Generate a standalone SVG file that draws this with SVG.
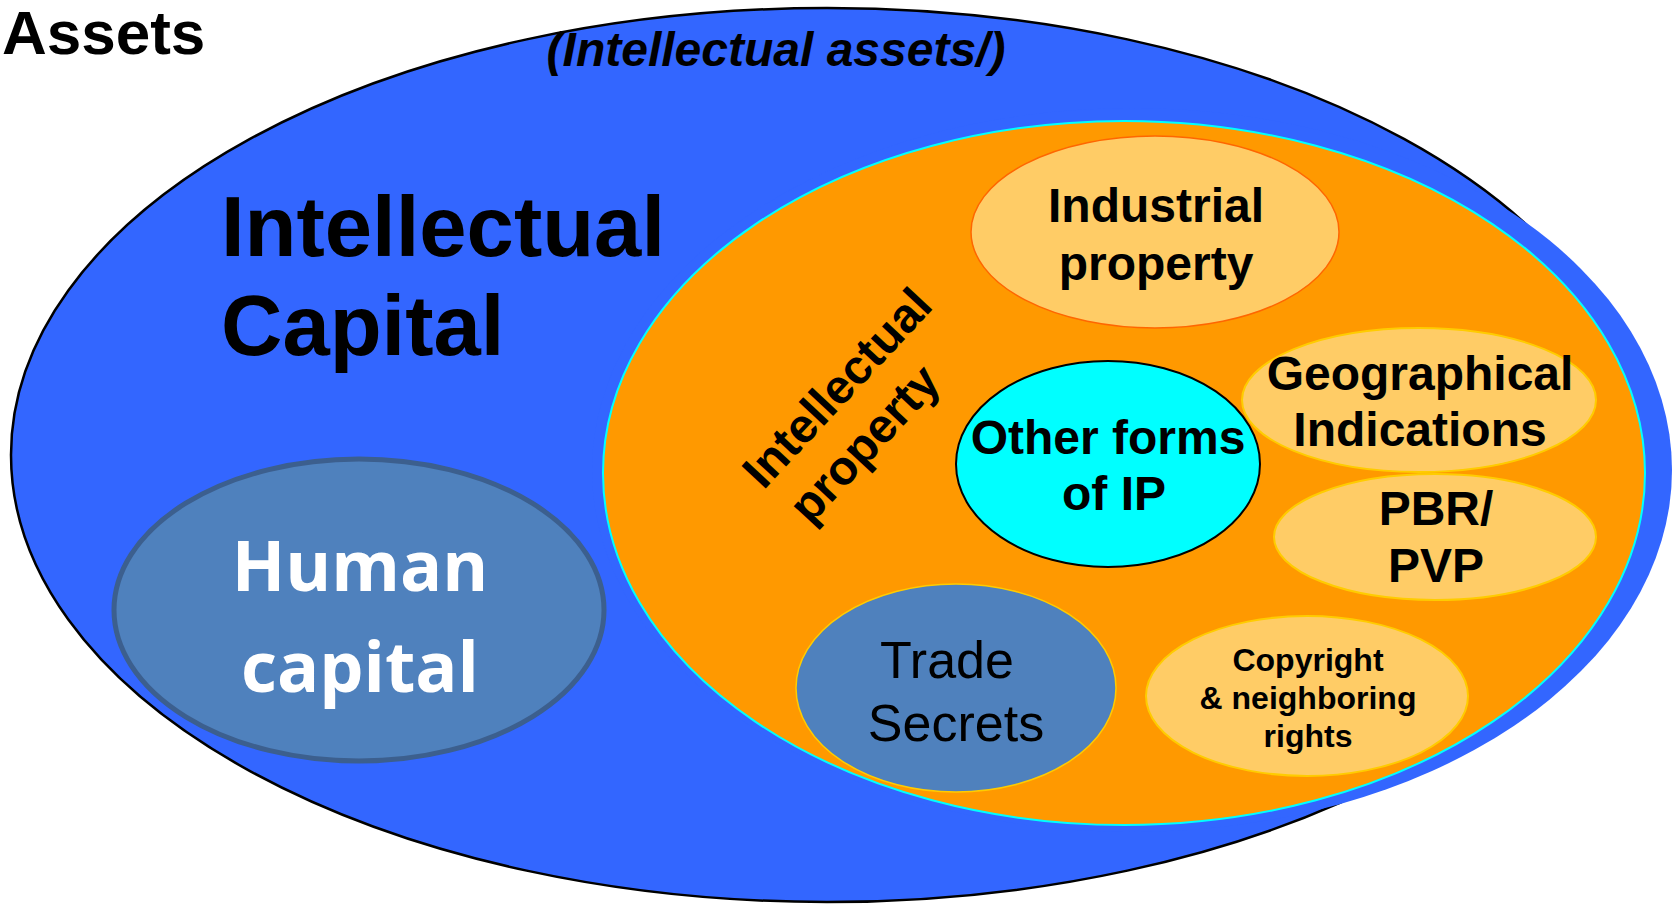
<svg xmlns="http://www.w3.org/2000/svg" width="1675" height="904" viewBox="0 0 1675 904">
<style>
.b{font-family:"Liberation Sans",Arial,sans-serif;font-weight:bold;fill:#000}
.r{font-family:"Liberation Sans",Arial,sans-serif;fill:#000}
.h{font-family:"Open Sans","DejaVu Sans",sans-serif;font-weight:bold;fill:#fff}
.m{text-anchor:middle}
.lt{fill:#FFCC66;stroke:#FFCC00;stroke-width:2}
</style>
<rect width="1675" height="904" fill="#fff"/>
<g id="assets">
<ellipse cx="827" cy="455" rx="816" ry="447" fill="#3366FF" stroke="#000" stroke-width="2.5"/>
<ellipse cx="1132" cy="470" rx="540" ry="362" fill="#3366FF"/>
<text class="b" x="2" y="54" font-size="62">Assets</text>
<text class="b m" x="776" y="66" font-size="48" font-style="italic">(Intellectual assets/)</text>
<text class="b" x="221" y="256" font-size="85">Intellectual</text>
<text class="b" x="221" y="355" font-size="85">Capital</text>
</g>
<g id="human-capital">
<ellipse cx="359" cy="610" rx="245" ry="151" fill="#4F81BD" stroke="#3C5F8E" stroke-width="5"/>
<text class="h m" x="360" y="591" font-size="70">Human</text>
<text class="h m" x="360" y="692" font-size="70">capital</text>
</g>
<g id="intellectual-property">
<ellipse cx="1124" cy="473" rx="521" ry="352" fill="#FF9900" stroke="#00FFFF" stroke-width="2"/>
<g transform="translate(849 399) rotate(-47)">
<text class="b m" x="0" y="0" font-size="48">Intellectual</text>
<text class="b m" x="-22" y="58" font-size="48">property</text>
</g>
</g>
<g id="industrial-property">
<ellipse cx="1155" cy="232" rx="184" ry="96" fill="#FFCC66" stroke="#FF6600" stroke-width="1.5"/>
<text class="b m" x="1156" y="222" font-size="48">Industrial</text>
<text class="b m" x="1156" y="280" font-size="48">property</text>
</g>
<g id="geographical-indications">
<ellipse class="lt" cx="1419" cy="400" rx="177" ry="72"/>
<text class="b m" x="1420" y="390" font-size="48">Geographical</text>
<text class="b m" x="1420" y="446" font-size="48">Indications</text>
</g>
<g id="pbr-pvp">
<ellipse class="lt" cx="1435" cy="537" rx="161" ry="63"/>
<text class="b m" x="1436" y="525" font-size="48">PBR/</text>
<text class="b m" x="1436" y="582" font-size="48">PVP</text>
</g>
<g id="other-forms">
<ellipse cx="1108" cy="464" rx="152" ry="103" fill="#00FFFF" stroke="#000" stroke-width="2"/>
<text class="b m" x="1108" y="454" font-size="48">Other forms</text>
<text class="b m" x="1114" y="510" font-size="48">of IP</text>
</g>
<g id="trade-secrets">
<ellipse cx="956" cy="688" rx="160" ry="104" fill="#4F81BD" stroke="#FFCC00" stroke-width="1.5"/>
<text class="r m" x="947" y="678" font-size="52">Trade</text>
<text class="r m" x="956" y="741" font-size="52">Secrets</text>
</g>
<g id="copyright">
<ellipse class="lt" cx="1307" cy="696" rx="161" ry="80"/>
<text class="b m" x="1308" y="671" font-size="32">Copyright</text>
<text class="b m" x="1308" y="709" font-size="32">&amp; neighboring</text>
<text class="b m" x="1308" y="747" font-size="32">rights</text>
</g>
<g id="connectors"/>
</svg>
